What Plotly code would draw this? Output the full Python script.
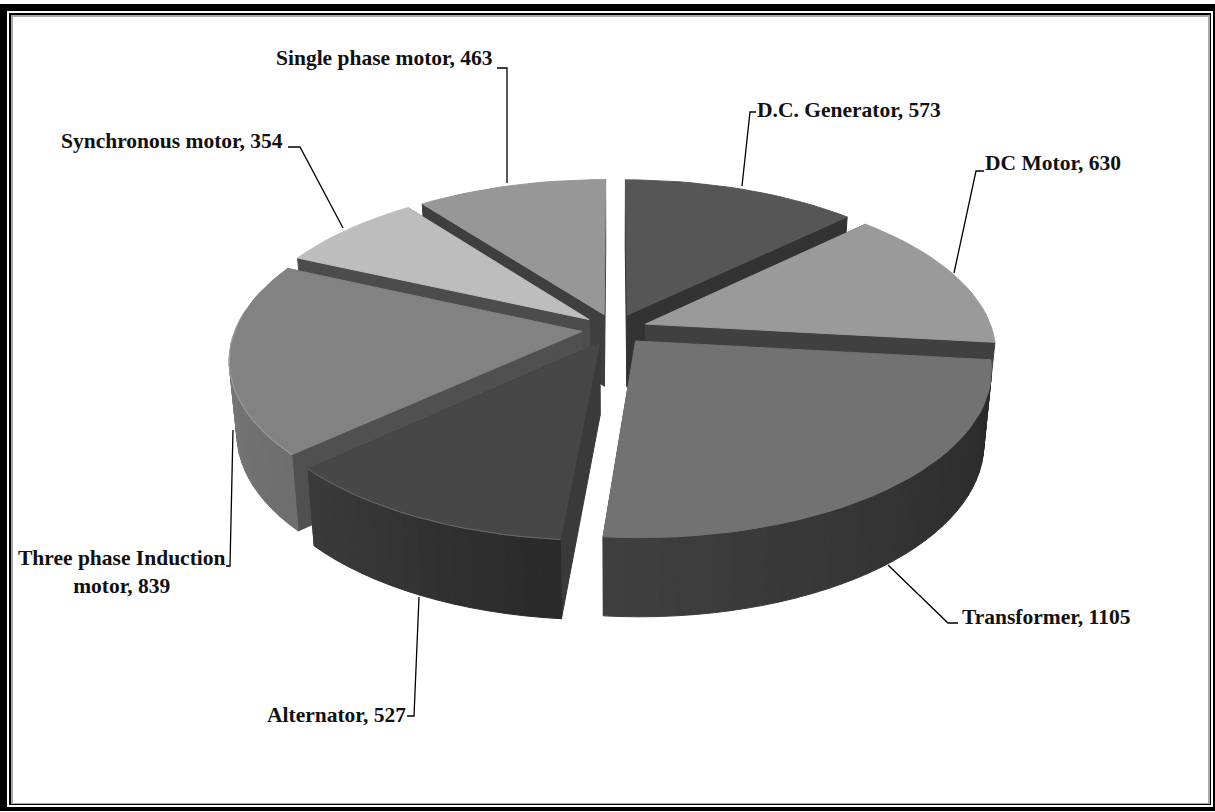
import math
import plotly.graph_objects as go

categories = ["D.C. Generator", "DC Motor", "Transformer", "Alternator",
              "Three phase Induction motor", "Synchronous motor", "Single phase motor"]
values = [573, 630, 1105, 527, 839, 354, 463]
label_texts = ["D.C. Generator, 573", "DC Motor, 630", "Transformer, 1105", "Alternator, 527",
               "Three phase Induction<br>motor, 839", "Synchronous motor, 354", "Single phase motor, 463"]

top_colors = ["#565656", "#9a9a9a", "#727272", "#474747", "#828282", "#bdbdbd", "#979797"]
face_colors = ["#333333", "#404040", "#3c3c3c", "#3a3a3a", "#505050", "#4c4c4c", "#3f3f3f"]
rim_colors = [None, None, None, "#6a6a6a", "#a2a2a2", None, None]
wall_from = [60, 110, 40, 42, 110, 130, 100]
wall_to = [40, 80, 63, 58, 126, 110, 80]

label_pos = [(849, 110), (1053, 163), (1046, 617), (336, 715), (122, 572), (172, 141), (384, 58)]
leaders = [
    [(742, 186), (750, 112), (756, 112)],
    [(954, 273), (976, 171), (984, 171)],
    [(888, 565), (948, 623), (958, 623)],
    [(419, 597), (414, 716), (407, 716)],
    [(233, 430), (230, 566), (226, 566)],
    [(343, 228), (300, 147), (288, 147)],
    [(507, 183), (507, 68), (497, 68)],
]

CX, CY, RX, RY, K, DEPTH, EXPLODE, CONVERGE = 614.5, 329, 346.5, 161, 0.16, 72, 0.095, 0.02


def project(X, Y, z):
    s = 1 / (1 - K * Y)
    return CX + RX * X * s * (1 - CONVERGE * z), CY + RY * Y * s + DEPTH * z * s ** 0.5


def poly(points, color, name, value):
    xs = [p[0] for p in points] + [points[0][0]]
    ys = [p[1] for p in points] + [points[0][1]]
    return go.Scatter(x=xs, y=ys, mode="lines", fill="toself", fillcolor=color,
                      line=dict(color=color, width=1), showlegend=False,
                      name=name, text=f"{name}: {value}", hoverinfo="text")


total = sum(values)
slices = []
cum = 0
for i, v in enumerate(values):
    a0 = 2 * math.pi * cum / total
    a1 = 2 * math.pi * (cum + v) / total
    cum += v
    mid = (a0 + a1) / 2
    ox, oy = EXPLODE * math.sin(mid), -EXPLODE * math.cos(mid)
    n = max(8, int((a1 - a0) / math.radians(2.5)))
    rim = []
    for j in range(n + 1):
        a = a0 + (a1 - a0) * j / n
        rim.append((ox + math.sin(a), oy - math.cos(a)))
    slices.append(dict(i=i, rim=rim, ox=ox, oy=oy, depth_key=-math.cos(mid) + oy))

fig = go.Figure()
for sl in sorted(slices, key=lambda s: s["depth_key"]):
    i = sl["i"]
    name, val = categories[i], values[i]
    apex = (sl["ox"], sl["oy"])
    rim = sl["rim"]
    for end in (rim[0], rim[-1]):
        fig.add_trace(poly([project(*apex, 0), project(*end, 0), project(*end, 1), project(*apex, 1)],
                           face_colors[i], name, val))
    m = len(rim) - 1
    for j in range(m):
        p, q = rim[j], rim[j + 1]
        if project(*q, 0)[0] >= project(*p, 0)[0]:
            continue  # this part of the outer wall faces away from the viewer
        g = round(wall_from[i] + (wall_to[i] - wall_from[i]) * j / max(m - 1, 1))
        col = f"rgb({g},{g},{g})"
        fig.add_trace(poly([project(*p, 0), project(*q, 0), project(*q, 1), project(*p, 1)], col, name, val))
    top = [project(*apex, 0)] + [project(*p, 0) for p in rim]
    fig.add_trace(poly(top, top_colors[i], name, val))
    if rim_colors[i]:
        front = [project(*p, 0) for p in rim if p[1] > -0.1]
        fig.add_trace(go.Scatter(x=[p[0] for p in front], y=[p[1] for p in front], mode="lines",
                                 line=dict(color=rim_colors[i], width=1), showlegend=False, hoverinfo="skip"))

for path in leaders:
    fig.add_trace(go.Scatter(x=[p[0] for p in path], y=[p[1] for p in path], mode="lines",
                             line=dict(color="black", width=1.3), showlegend=False, hoverinfo="skip"))

for text, (x, y) in zip(label_texts, label_pos):
    fig.add_annotation(x=x, y=y, text=f"<b>{text}</b>", showarrow=False, xanchor="center", yanchor="middle",
                       font=dict(family="Liberation Serif", size=21.5, color="#111111"), align="center")

shapes = [
    dict(type="rect", x0=0, y0=4, x1=1215, y1=811, fillcolor="black", line_width=0, layer="below"),
    dict(type="rect", x0=7, y0=11, x1=1213, y1=807, fillcolor="white", line_width=0, layer="below"),
    dict(type="rect", x0=9, y0=13, x1=1211, y1=805, fillcolor="black", line_width=0, layer="below"),
    dict(type="rect", x0=11, y0=15, x1=1210, y1=804, fillcolor="#a8a8a8", line_width=0, layer="below"),
    dict(type="rect", x0=13, y0=17, x1=1208, y1=803, fillcolor="white", line_width=0, layer="below"),
]

fig.update_layout(
    width=1215, height=812, margin=dict(l=0, r=0, t=0, b=0),
    paper_bgcolor="white", plot_bgcolor="white", showlegend=False, shapes=shapes,
    xaxis=dict(range=[0, 1215], visible=False, fixedrange=True),
    yaxis=dict(range=[812, 0], visible=False, fixedrange=True),
)
fig.write_html("out.html", config=dict(displayModeBar=False),
               post_script="document.body.style.margin='0';document.body.style.overflow='hidden';")
